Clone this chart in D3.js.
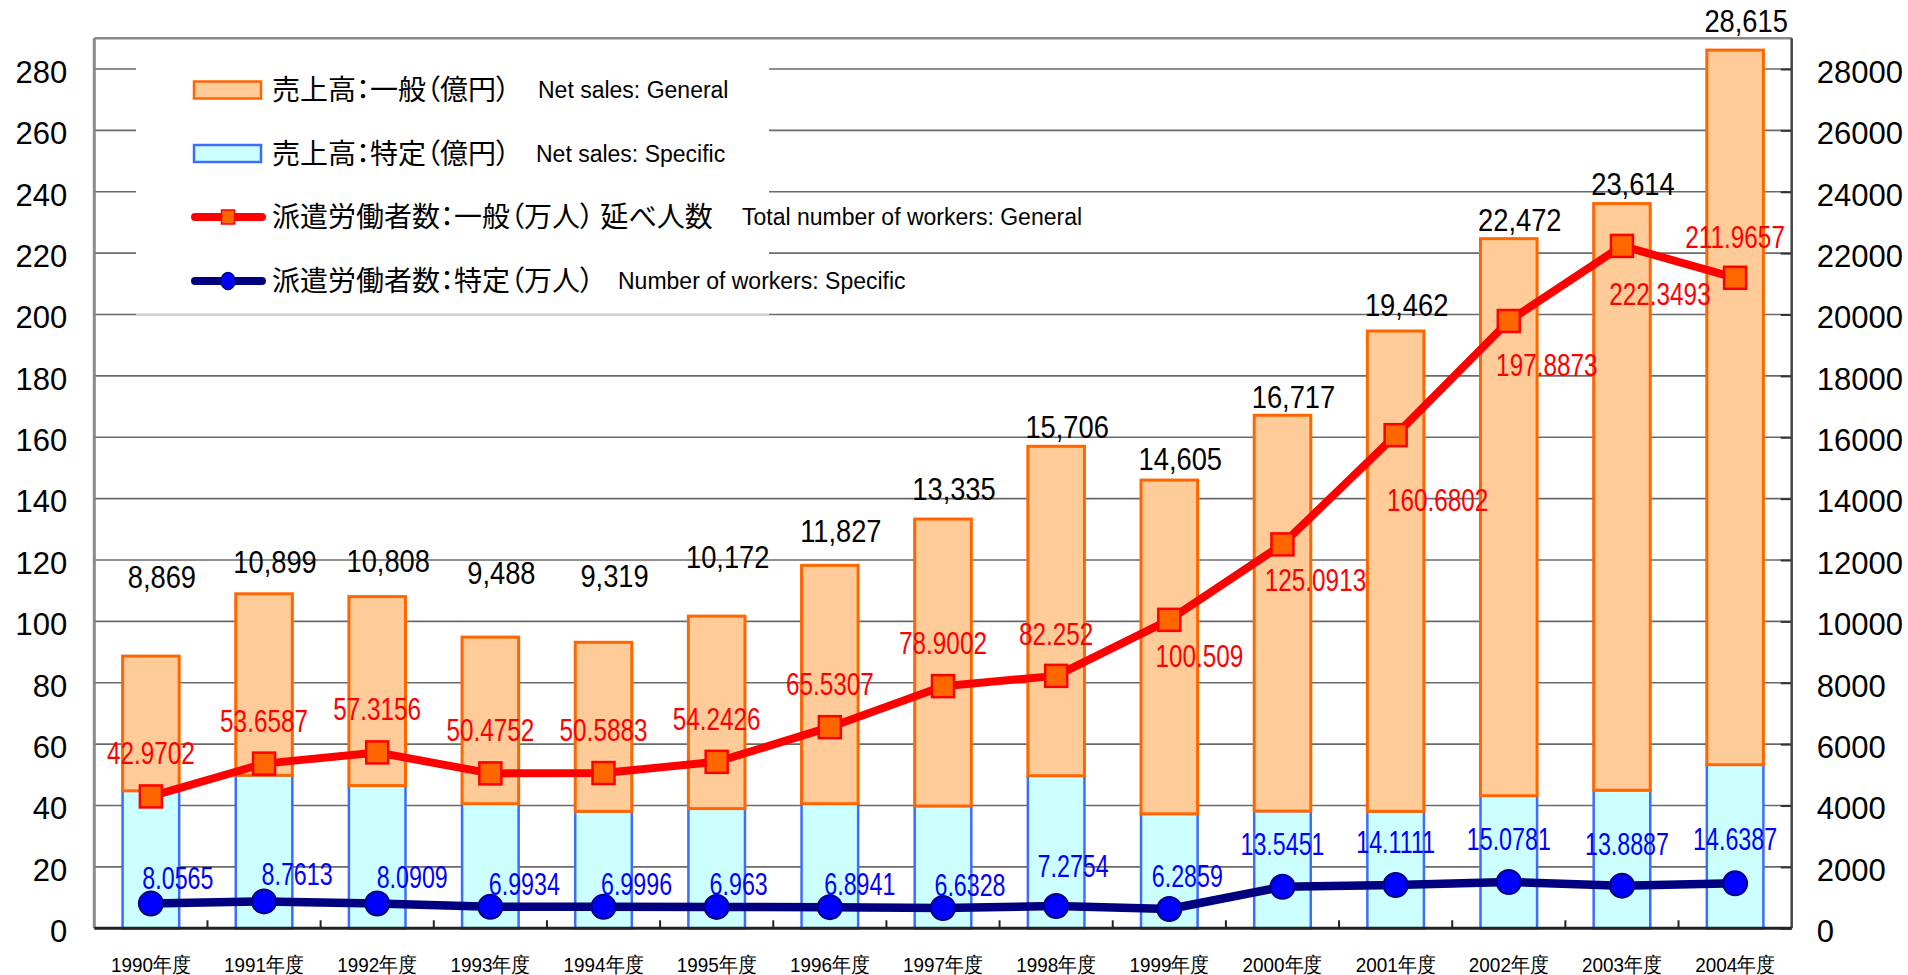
<!DOCTYPE html>
<html lang="ja">
<head>
<meta charset="UTF-8">
<title>派遣労働者数・売上高の推移</title>
<script src="https://d3js.org/d3.v7.min.js"></script>
<style>
  body { margin: 0; background: #fff; }
  svg { display: block; font-family: "Liberation Sans", Arial, "Noto Sans CJK JP", sans-serif; }
  .jp { font-family: "Noto Sans CJK JP", sans-serif; font-feature-settings: "palt"; }
</style>
</head>
<body>
<svg width="1908" height="975"></svg>
<script>
// 年度
const years = ["1990年度", "1991年度", "1992年度", "1993年度", "1994年度", "1995年度", "1996年度",
  "1997年度", "1998年度", "1999年度", "2000年度", "2001年度", "2002年度", "2003年度", "2004年度"];

// 売上高 (億円): stack total and the specific part at the bottom
const salesTotal = [8869, 10899, 10808, 9488, 9319, 10172, 11827, 13335, 15706, 14605, 16717, 19462, 22472, 23614, 28615];
const salesSpecific = [4480, 4985, 4650, 4060, 3810, 3900, 4060, 3985, 4970, 3730, 3820, 3810, 4320, 4500, 5330];

// 派遣労働者数 (万人)
const workersGeneral = [42.9702, 53.6587, 57.3156, 50.4752, 50.5883, 54.2426, 65.5307, 78.9002, 82.252,
  100.509, 125.0913, 160.6802, 197.8873, 222.3493, 211.9657];
const workersSpecific = [8.0565, 8.7613, 8.0909, 6.9934, 6.9996, 6.963, 6.8941, 6.6328, 7.2754,
  6.2859, 13.5451, 14.1111, 15.0781, 13.8887, 14.6387];

const leftTicks = [0, 20, 40, 60, 80, 100, 120, 140, 160, 180, 200, 220, 240, 260, 280];
const rightTicks = [0, 2000, 4000, 6000, 8000, 10000, 12000, 14000, 16000, 18000, 20000, 22000, 24000, 26000, 28000];

// label nudges (px), as placed in the original chart
const totalLabelLift = [68, 21, 25, 53, 55, 48, 23, 19, 8, 10, 7, 15, 8, 9, 18];
const redLabelShift = [[0, -32], [0, -32], [0, -32], [0, -32], [0, -32], [0, -32], [0, -32], [0, -32], [0, -31],
  [30, 47], [33, 47], [42, 76], [38, 55], [38, 59], [0, -30]];
const blueLabelShift = [[27, -15], [33, -16], [35, -15], [34, -12], [33, -12], [22, -12], [30, -12], [27, -12],
  [17, -29], [18, -22], [0, -32], [0, -32], [0, -32], [5, -31], [0, -33]];

const rows = years.map((yr, i) => ({
  yr,
  total: salesTotal[i],
  spec: salesSpecific[i],
  gen: workersGeneral[i],
  sp: workersSpecific[i],
  i
}));

const svg = d3.select("svg");
const L = 94.3, R = 1791.7, T = 38.3, B = 928.3;

const x = d3.scaleBand().domain(years).range([L, R]).paddingInner(0.5).paddingOuter(0.25);
const cell = d3.scaleBand().domain(years).range([L, R]);
const y = d3.scaleLinear().domain([0, 290]).range([B, T]);
const ySales = d3.scaleLinear().domain([0, 29000]).range([B, T]);
const cx = d => x(d.yr) + x.bandwidth() / 2;

// gridlines
svg.append("g")
  .selectAll("line")
  .data(leftTicks.filter(t => t > 0))
  .join("line")
  .attr("x1", L).attr("x2", R)
  .attr("y1", d => y(d)).attr("y2", d => y(d))
  .attr("stroke", "#6a6a6a")
  .attr("stroke-width", 1.6);

// left axis labels
const gl = svg.append("g")
  .attr("transform", `translate(${L},0)`)
  .call(d3.axisLeft(y).tickValues(leftTicks).tickSize(0).tickPadding(27));
gl.select(".domain").remove();
gl.selectAll("text").attr("font-size", 31).attr("dy", "0.43em").attr("fill", "#000");

// right axis
const gr = svg.append("g")
  .attr("transform", `translate(${R},0)`)
  .call(d3.axisRight(ySales).tickValues(rightTicks).tickSize(-11).tickPadding(25).tickFormat(d3.format("d")));
gr.select(".domain").remove();
gr.selectAll("line").attr("stroke", "#333").attr("stroke-width", 2);
gr.selectAll("text").attr("font-size", 31).attr("dy", "0.43em").attr("fill", "#000");
svg.selectAll(".tick text").attr("font-family", null);

// legend box
const lg = svg.append("g");
lg.append("rect").attr("x", 136).attr("y", 40).attr("width", 633).attr("height", y(200) - 40).attr("fill", "#fff");
lg.append("line").attr("x1", 136).attr("x2", 769).attr("y1", y(200)).attr("y2", y(200))
  .attr("stroke", "#d0d0d0").attr("stroke-width", 2);

// frame
svg.append("line").attr("x1", L).attr("x2", R).attr("y1", T).attr("y2", T).attr("stroke", "#8a8a8a").attr("stroke-width", 2.5);
svg.append("line").attr("x1", L).attr("x2", L).attr("y1", T).attr("y2", B).attr("stroke", "#8a8a8a").attr("stroke-width", 3);
svg.append("line").attr("x1", R).attr("x2", R).attr("y1", T).attr("y2", B).attr("stroke", "#444").attr("stroke-width", 2.5);

// bars: specific part at the bottom, general part on top
svg.append("g").selectAll("rect")
  .data(rows)
  .join("rect")
  .attr("x", d => x(d.yr))
  .attr("width", x.bandwidth())
  .attr("y", d => ySales(d.spec))
  .attr("height", d => B - ySales(d.spec))
  .attr("fill", "#ccffff")
  .attr("stroke", "#3d6dff")
  .attr("stroke-width", 2.5);

svg.append("g").selectAll("rect")
  .data(rows)
  .join("rect")
  .attr("x", d => x(d.yr))
  .attr("width", x.bandwidth())
  .attr("y", d => ySales(d.total))
  .attr("height", d => ySales(d.spec) - ySales(d.total))
  .attr("fill", "#ffcc99")
  .attr("stroke", "#ff6600")
  .attr("stroke-width", 3);

// bottom axis
svg.append("line").attr("x1", L).attr("x2", R).attr("y1", B).attr("y2", B).attr("stroke", "#222").attr("stroke-width", 3);
svg.append("g").selectAll("line")
  .data(years.slice(1))
  .join("line")
  .attr("x1", d => cell(d)).attr("x2", d => cell(d))
  .attr("y1", B).attr("y2", B - 8)
  .attr("stroke", "#222").attr("stroke-width", 2);

const gb = svg.append("g")
  .attr("transform", `translate(0,${B})`)
  .call(d3.axisBottom(x).tickSize(0).tickPadding(29));
gb.select(".domain").remove();
gb.selectAll("text")
  .attr("font-size", 21)
  .attr("font-family", null)
  .attr("fill", "#000")
  .attr("transform", "scale(0.9,1)");

// total labels
svg.append("g").selectAll("text")
  .data(rows)
  .join("text")
  .attr("transform", d => `translate(${cx(d) + 11},${ySales(d.total) - totalLabelLift[d.i]}) scale(0.88,1)`)
  .attr("text-anchor", "middle")
  .attr("font-size", 31)
  .attr("fill", "#000")
  .text(d => d3.format(",")(d.total));

// general workers line
const lineGen = d3.line().x(cx).y(d => y(d.gen));
svg.append("path")
  .datum(rows)
  .attr("d", lineGen)
  .attr("fill", "none")
  .attr("stroke", "#ff0000")
  .attr("stroke-width", 8)
  .attr("stroke-linejoin", "round");
svg.append("g").selectAll("rect")
  .data(rows)
  .join("rect")
  .attr("x", d => cx(d) - 11)
  .attr("y", d => y(d.gen) - 11)
  .attr("width", 22).attr("height", 22)
  .attr("fill", "#ff6600")
  .attr("stroke", "#ff0000")
  .attr("stroke-width", 2.5);

// specific workers line
const lineSp = d3.line().x(cx).y(d => y(d.sp));
svg.append("path")
  .datum(rows)
  .attr("d", lineSp)
  .attr("fill", "none")
  .attr("stroke", "#000080")
  .attr("stroke-width", 8.5)
  .attr("stroke-linejoin", "round");
svg.append("g").selectAll("circle")
  .data(rows)
  .join("circle")
  .attr("cx", cx)
  .attr("cy", d => y(d.sp))
  .attr("r", 12)
  .attr("fill", "#0000ff")
  .attr("stroke", "#000080")
  .attr("stroke-width", 2);

// value labels
svg.append("g").selectAll("text")
  .data(rows)
  .join("text")
  .attr("transform", d => `translate(${cx(d) + redLabelShift[d.i][0]},${y(d.gen) + redLabelShift[d.i][1]}) scale(0.76,1)`)
  .attr("text-anchor", "middle")
  .attr("font-size", 32)
  .attr("fill", "#ff0000")
  .text(d => String(d.gen));

svg.append("g").selectAll("text")
  .data(rows)
  .join("text")
  .attr("transform", d => `translate(${cx(d) + blueLabelShift[d.i][0]},${y(d.sp) + blueLabelShift[d.i][1]}) scale(0.75,1)`)
  .attr("text-anchor", "middle")
  .attr("font-size", 31)
  .attr("fill", "#0000ff")
  .text(d => String(d.sp));

// legend entries
const legendItems = [
  { jp: "売上高：一般（億円）", en: "Net sales: General", enX: 538, kind: "barGen" },
  { jp: "売上高：特定（億円）", en: "Net sales: Specific", enX: 536, kind: "barSp" },
  { jp: "派遣労働者数：一般（万人） 延べ人数", en: "Total number of workers: General", enX: 742, kind: "lineGen" },
  { jp: "派遣労働者数：特定（万人）", en: "Number of workers: Specific", enX: 618, kind: "lineSp" }
];
const rowY = [90, 153.5, 217, 281];

legendItems.forEach((it, k) => {
  const cy = rowY[k];
  if (it.kind === "barGen" || it.kind === "barSp") {
    lg.append("rect")
      .attr("x", 194).attr("y", cy - 8.5).attr("width", 67).attr("height", 17)
      .attr("fill", it.kind === "barGen" ? "#ffcc99" : "#ccffff")
      .attr("stroke", it.kind === "barGen" ? "#ff6600" : "#3d6dff")
      .attr("stroke-width", 2.5);
  } else {
    const red = it.kind === "lineGen";
    lg.append("line")
      .attr("x1", 195).attr("x2", 262).attr("y1", cy).attr("y2", cy)
      .attr("stroke", red ? "#ff0000" : "#000080")
      .attr("stroke-width", 8).attr("stroke-linecap", "round");
    if (red) {
      lg.append("rect").attr("x", 221.5).attr("y", cy - 7).attr("width", 13).attr("height", 14)
        .attr("fill", "#ff6600").attr("stroke", "#ff0000").attr("stroke-width", 1.5);
    } else {
      lg.append("ellipse").attr("cx", 228).attr("cy", cy).attr("rx", 7).attr("ry", 8.5)
        .attr("fill", "#0000ff").attr("stroke", "#000080").attr("stroke-width", 1.5);
    }
  }
  lg.append("text")
    .attr("class", "jp")
    .attr("x", 272).attr("y", cy + 10)
    .attr("font-size", 28)
    .attr("fill", "#000")
    .text(it.jp);
  lg.append("text")
    .attr("x", it.enX).attr("y", cy + 8)
    .attr("font-size", 23)
    .attr("fill", "#000")
    .text(it.en);
});
</script>
</body>
</html>
